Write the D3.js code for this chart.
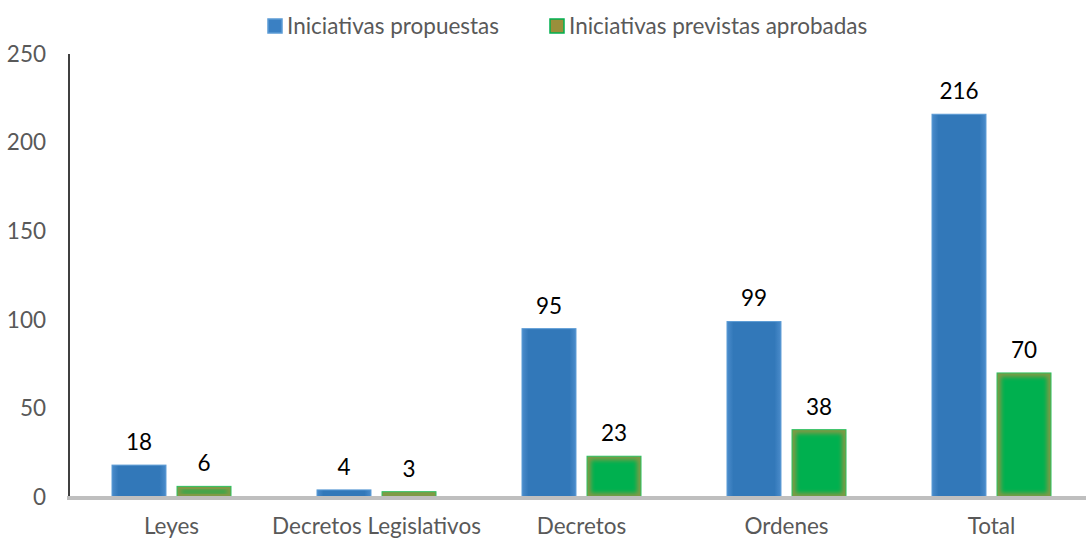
<!DOCTYPE html>
<html>
<head>
<meta charset="utf-8">
<script src="https://cdn.jsdelivr.net/npm/d3@7"></script>
<style>
  body { margin: 0; background: #fff; }
  text { font-family: Lato, "Open Sans", sans-serif; }
</style>
</head>
<body>
<div id="chart"></div>
<script>
const categories = ['Leyes', 'Decretos Legislativos', 'Decretos', 'Ordenes', 'Total']
const propuestas = [18, 4, 95, 99, 216]
const aprobadas = [6, 3, 23, 38, 70]
const seriesNames = ['Iniciativas propuestas', 'Iniciativas previstas aprobadas']
const yTicks = [0, 50, 100, 150, 200, 250]

const width = 1086, height = 540
const margin = {top: 54, right: -8, bottom: 43, left: 69}
const fs = '22.5px'

let svg = d3.select('#chart')
.append('svg')
.attr('width', width)
.attr('height', height)

let defs = svg.append('defs')

let blueGrad = defs.append('linearGradient').attr('id', 'blueGrad')
blueGrad.append('stop').attr('offset', '0%').attr('stop-color', '#4b8ccb')
blueGrad.append('stop').attr('offset', '12%').attr('stop-color', '#3278b9')
blueGrad.append('stop').attr('offset', '88%').attr('stop-color', '#3278b9')
blueGrad.append('stop').attr('offset', '100%').attr('stop-color', '#4b8ccb')

defs.append('filter').attr('id', 'soft')
.attr('x', '-20%').attr('y', '-20%').attr('width', '140%').attr('height', '140%')
.append('feGaussianBlur').attr('stdDeviation', 2)

const data = categories.map((c, i) => ({cat: c, vals: [propuestas[i], aprobadas[i]]}))

let x0 = d3.scaleBand()
.domain(categories)
.range([margin.left, width - margin.right])

let x1 = d3.scaleBand()
.domain([0, 1])
.range([43, x0.bandwidth() - 43])
.paddingInner(0.17)

let y = d3.scaleLinear()
.domain([0, 250])
.range([height - margin.bottom, margin.top])

// y tick labels
svg.append('g').selectAll('text')
.data(yTicks)
.enter()
.append('text')
.attr('x', 46)
.attr('y', d => y(d))
.attr('dy', '0.35em')
.attr('text-anchor', 'end')
.attr('fill', '#595959')
.style('font-size', fs)
.text(d => d)

// y axis line
svg.append('line')
.attr('x1', margin.left).attr('x2', margin.left)
.attr('y1', y(250)).attr('y2', y(0))
.attr('stroke', '#000')
.attr('stroke-width', 1.5)

// bars
let groups = svg.append('g').selectAll('g')
.data(data)
.enter()
.append('g')
.attr('transform', d => `translate(${x0(d.cat)},0)`)

let bars = groups.selectAll('g')
.data(d => d.vals.map((v, i) => ({v, i})))
.enter()
.append('g')

bars.append('rect')
.attr('x', d => x1(d.i))
.attr('width', x1.bandwidth())
.attr('y', d => y(d.v))
.attr('height', d => y(0) - y(d.v))
.attr('fill', d => d.i === 0 ? 'url(#blueGrad)' : '#7f9a45')
.attr('stroke', d => d.i === 0 ? '#5b9bd5' : '#2cc160')
.attr('stroke-width', 1)

// soft green core
bars.filter(d => d.i === 1 && y(0) - y(d.v) > 8)
.append('rect')
.attr('x', d => x1(d.i) + 4)
.attr('width', x1.bandwidth() - 8)
.attr('y', d => y(d.v) + 4)
.attr('height', d => y(0) - y(d.v) - 8)
.attr('fill', '#00b050')
.attr('filter', 'url(#soft)')

groups.selectAll('text')
.data(d => d.vals.map((v, i) => ({v, i})))
.enter()
.append('text')
.attr('x', d => x1(d.i) + x1.bandwidth() / 2)
.attr('y', d => y(d.v) - 23)
.attr('dy', '0.35em')
.attr('text-anchor', 'middle')
.attr('fill', '#000')
.style('font-size', fs)
.text(d => d.v)

// baseline
svg.append('line')
.attr('x1', margin.left - 2).attr('x2', width)
.attr('y1', y(0) + 1).attr('y2', y(0) + 1)
.attr('stroke', '#bfbfbf')
.attr('stroke-width', 4)

// x labels
svg.append('g').selectAll('text')
.data(categories)
.enter()
.append('text')
.attr('x', d => x0(d) + x0.bandwidth() / 2)
.attr('y', 526)
.attr('dy', '0.35em')
.attr('text-anchor', 'middle')
.attr('fill', '#595959')
.style('font-size', fs)
.text(d => d)

// legend
const legendX = [268, 550]
let legend = svg.append('g').selectAll('g')
.data(seriesNames)
.enter()
.append('g')
.attr('transform', (d, i) => `translate(${legendX[i]},19)`)

legend.append('rect')
.attr('width', 14).attr('height', 14)
.attr('fill', (d, i) => i === 0 ? '#3a80c3' : '#9a8f3b')
.attr('stroke', (d, i) => i === 0 ? '#5b9bd5' : '#00b050')
.attr('stroke-width', 1.5)

legend.append('text')
.attr('x', 19)
.attr('y', 7)
.attr('dy', '0.35em')
.attr('fill', '#595959')
.style('font-size', fs)
.text(d => d)
</script>
</body>
</html>
